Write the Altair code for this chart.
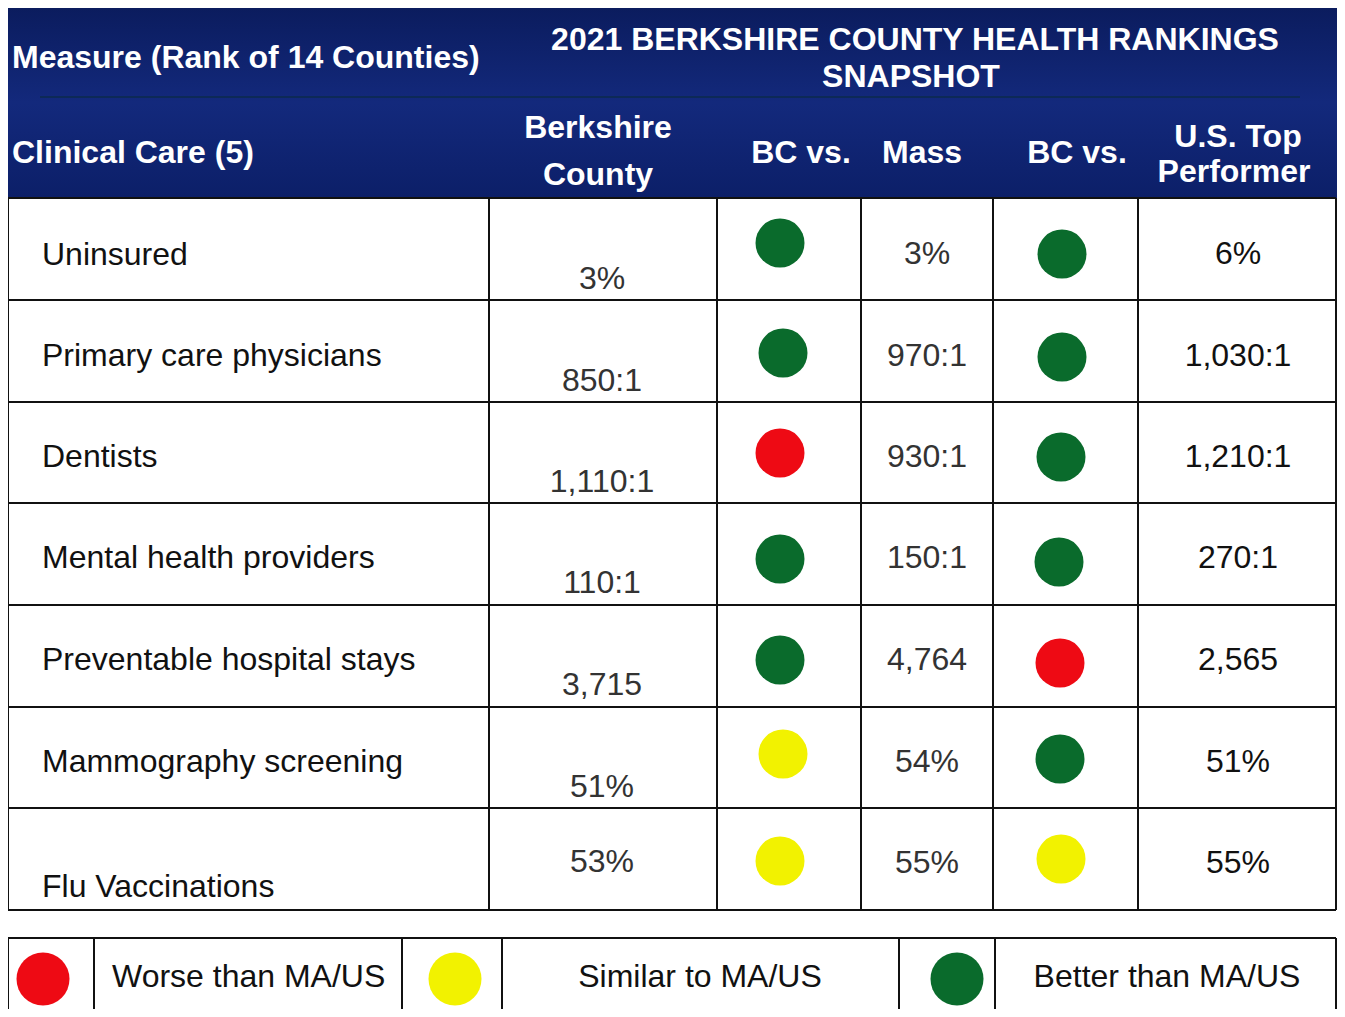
import altair as alt
import pandas as pd

# ---------------- data ----------------
measures = ["Uninsured", "Primary care physicians", "Dentists", "Mental health providers",
            "Preventable hospital stays", "Mammography screening", "Flu Vaccinations"]
berkshire = ["3%", "850:1", "1,110:1", "110:1", "3,715", "51%", "53%"]
mass = ["3%", "970:1", "930:1", "150:1", "4,764", "54%", "55%"]
us_top = ["6%", "1,030:1", "1,210:1", "270:1", "2,565", "51%", "55%"]
bc_vs_mass = ["Better", "Better", "Worse", "Better", "Better", "Similar", "Similar"]
bc_vs_us = ["Better", "Better", "Better", "Better", "Worse", "Better", "Similar"]
legend_status = ["Worse", "Similar", "Better"]
legend_labels = ["Worse than MA/US", "Similar to MA/US", "Better than MA/US"]
title_lines = ["2021 BERKSHIRE COUNTY HEALTH RANKINGS", "SNAPSHOT"]
left_headers = ["Measure (Rank of 14 Counties)", "Clinical Care (5)"]
col_header_lines = ["Berkshire", "County", "BC vs.", "Mass", "BC vs.", "U.S. Top", "Performer"]

# ---------------- layout (page pixels) ----------------
OFF = 8
W, H = 1329, 1001
RIGHT = 1336
col_edges = [8, 489, 717, 861, 993, 1138, RIGHT]
row_edges = [198, 300, 402, 503, 605, 707, 808, 910]
header_top, header_bottom = 8, 198
legend_top = 938
legend_edges = [8, 94, 402, 502, 899, 995, RIGHT]

label_x = 42
label_base = [265, 366, 467, 568, 670, 772, 897]
bc_x, mass_x, us_x = 602, 927, 1238
bc_base = [289, 391, 492, 593, 695, 797, 872]
val_base = [264, 366, 467, 568, 670, 772, 873]
c1 = [(780, 243), (783, 353), (780, 453), (780, 559), (780, 660), (783, 754), (780, 861)]
c2 = [(1062, 254), (1062, 357), (1061, 457), (1059, 562), (1060, 663), (1060, 759), (1061, 859)]
legend_circles = [(43, 979), (455, 979), (957, 979)]
legend_text_pos = [(112, "left"), (700, "center"), (1167, "center")]
legend_base = 987
title_pos = [(915, 50), (911, 87)]
left_header_pos = [(12, 68), (12, 163)]
col_header_pos = [(598, 138), (598, 185), (801, 163), (922, 163), (1077, 163), (1238, 147), (1234, 182)]

RED, YELLOW, GREEN = "#ee0a14", "#f2f200", "#0a6b2c"
FONT = "Liberation Sans"
FS = 32
DOT = 49       # table dot diameter
LEG_DOT = 53   # legend dot diameter

xs = alt.Scale(domain=[OFF, OFF + W], range=[0, W])
ys = alt.Scale(domain=[OFF, OFF + H], range=[0, H])
cscale = alt.Scale(domain=["Worse", "Similar", "Better"], range=[RED, YELLOW, GREEN])


def X(f="x"):
    return alt.X(f + ":Q", scale=xs, axis=None)


def Y(f="y"):
    return alt.Y(f + ":Q", scale=ys, axis=None)


# header background
hdr = pd.DataFrame([{"x": col_edges[0], "x2": col_edges[-1] + 1, "y": header_top, "y2": header_bottom}])
header_rect = alt.Chart(hdr).mark_rect(
    color=alt.Gradient(gradient="linear", x1=0, x2=0, y1=0, y2=1,
                       stops=[alt.GradientStop(color="#0b1c5e", offset=0),
                              alt.GradientStop(color="#13297c", offset=0.5),
                              alt.GradientStop(color="#0c1f68", offset=1)])
).encode(x=X(), x2="x2:Q", y=Y(), y2="y2:Q")

divider = pd.DataFrame([{"x": 40, "x2": 1300, "y": 97, "y2": 97}])
header_div = alt.Chart(divider).mark_rule(color="#0a2a40", strokeWidth=1.5, opacity=0.8).encode(
    x=X(), x2="x2:Q", y=Y(), y2="y2:Q")

# grid lines
segs = []
for yv in row_edges:
    segs.append({"x": col_edges[0], "x2": col_edges[-1], "y": yv, "y2": yv})
for xv in col_edges:
    segs.append({"x": xv, "x2": xv, "y": row_edges[0], "y2": row_edges[-1]})
segs.append({"x": legend_edges[0], "x2": legend_edges[-1], "y": legend_top, "y2": legend_top})
for xv in legend_edges:
    segs.append({"x": xv, "x2": xv, "y": legend_top, "y2": OFF + H + 10})
grid = alt.Chart(pd.DataFrame(segs)).mark_rule(color="#111111", strokeWidth=2).encode(
    x=X(), x2="x2:Q", y=Y(), y2="y2:Q")

# circles (Vega symbol size = square of the diameter)
circ = []
for i in range(len(measures)):
    circ.append({"x": c1[i][0], "y": c1[i][1], "s": bc_vs_mass[i], "a": DOT ** 2})
    circ.append({"x": c2[i][0], "y": c2[i][1], "s": bc_vs_us[i], "a": DOT ** 2})
for i, st in enumerate(legend_status):
    circ.append({"x": legend_circles[i][0], "y": legend_circles[i][1], "s": st, "a": LEG_DOT ** 2})
circles = alt.Chart(pd.DataFrame(circ)).mark_circle(opacity=1).encode(
    x=X(), y=Y(), color=alt.Color("s:N", scale=cscale, legend=None),
    size=alt.Size("a:Q", scale=None))

# header texts
hl = pd.DataFrame([{"x": p[0], "y": p[1], "t": t} for p, t in zip(left_header_pos, left_headers)])
hdr_left = alt.Chart(hl).mark_text(align="left", baseline="alphabetic", font=FONT, fontSize=FS,
                                   fontWeight="bold", color="white").encode(x=X(), y=Y(), text="t:N")
ht = pd.DataFrame([{"x": p[0], "y": p[1], "t": t} for p, t in zip(title_pos, title_lines)])
hdr_title = alt.Chart(ht).mark_text(align="center", baseline="alphabetic", font=FONT, fontSize=FS,
                                    fontWeight="bold", color="white").encode(x=X(), y=Y(), text="t:N")
hc = pd.DataFrame([{"x": p[0], "y": p[1], "t": t} for p, t in zip(col_header_pos, col_header_lines)])
hdr_cols = alt.Chart(hc).mark_text(align="center", baseline="alphabetic", font=FONT, fontSize=FS,
                                   fontWeight="bold", color="white").encode(x=X(), y=Y(), text="t:N")

# body texts
lab = pd.DataFrame([{"x": label_x, "y": label_base[i], "t": measures[i]} for i in range(len(measures))])
labels = alt.Chart(lab).mark_text(align="left", baseline="alphabetic", font=FONT, fontSize=FS,
                                  color="#111111").encode(x=X(), y=Y(), text="t:N")
vals = []
for i in range(len(measures)):
    vals.append({"x": bc_x, "y": bc_base[i], "t": berkshire[i], "c": "#333333"})
    vals.append({"x": mass_x, "y": val_base[i], "t": mass[i], "c": "#333333"})
    vals.append({"x": us_x, "y": val_base[i], "t": us_top[i], "c": "#111111"})
values = alt.Chart(pd.DataFrame(vals)).mark_text(align="center", baseline="alphabetic", font=FONT,
                                                 fontSize=FS).encode(
    x=X(), y=Y(), text="t:N", color=alt.Color("c:N", scale=None))

# legend texts
lg_left = pd.DataFrame([{"x": legend_text_pos[0][0], "y": legend_base, "t": legend_labels[0]}])
lg_center = pd.DataFrame([{"x": legend_text_pos[i][0], "y": legend_base, "t": legend_labels[i]} for i in (1, 2)])
leg_l = alt.Chart(lg_left).mark_text(align="left", baseline="alphabetic", font=FONT, fontSize=FS,
                                     color="#111111").encode(x=X(), y=Y(), text="t:N")
leg_c = alt.Chart(lg_center).mark_text(align="center", baseline="alphabetic", font=FONT, fontSize=FS,
                                       color="#111111").encode(x=X(), y=Y(), text="t:N")

chart = alt.layer(header_rect, header_div, grid, circles, hdr_left, hdr_title, hdr_cols,
                  labels, values, leg_l, leg_c).properties(
    width=W, height=H, padding=0, autosize=alt.AutoSizeParams(type="none"), background="white"
).configure_view(stroke=None)

chart.save("out.html", embed_options={"renderer": "svg", "actions": False})
